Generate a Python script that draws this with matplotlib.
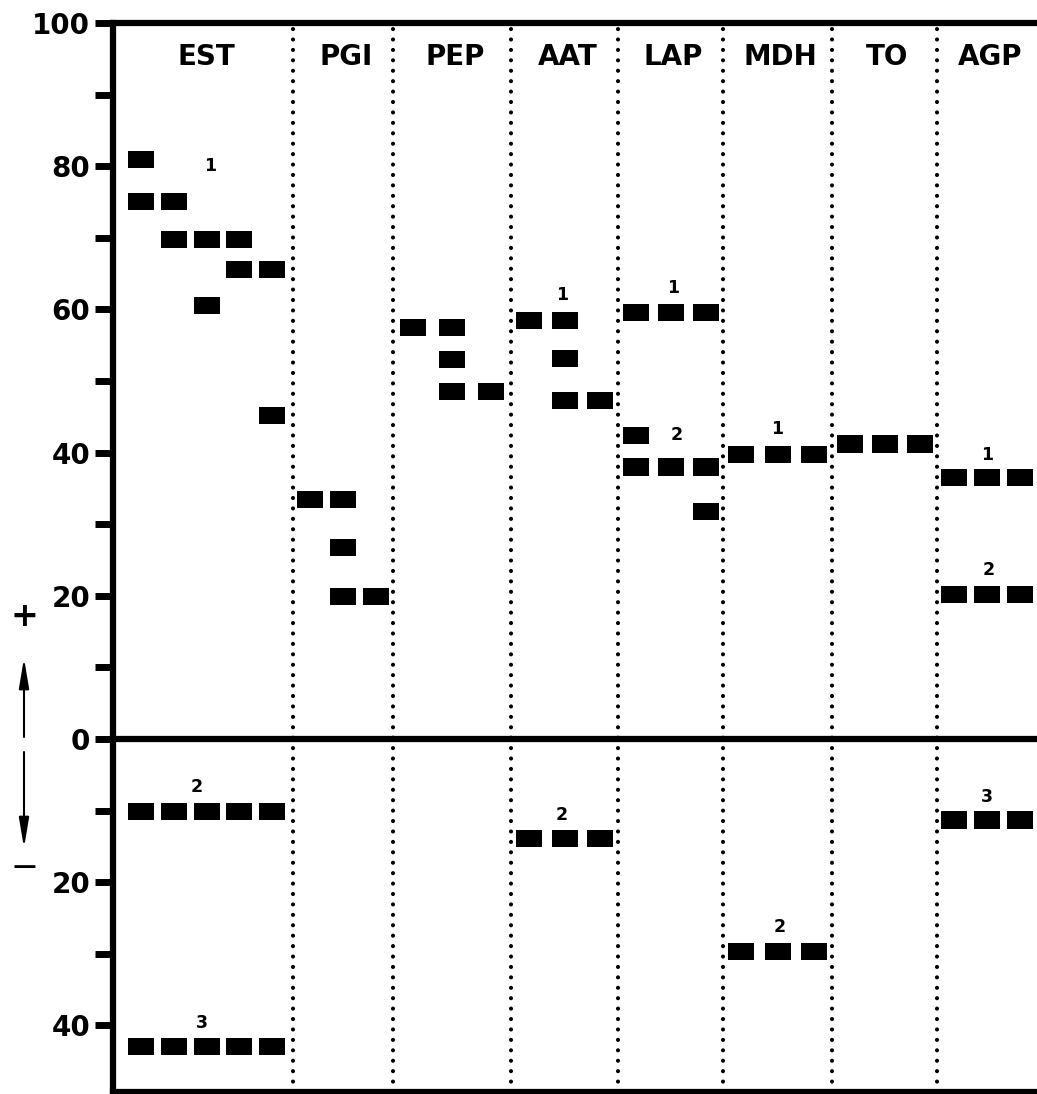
import matplotlib
matplotlib.use("Agg")
import matplotlib.pyplot as plt

# ---------------- data ----------------
enzymes = ["EST", "PGI", "PEP", "AAT", "LAP", "MDH", "TO", "AGP"]
lane_counts = [5, 3, 3, 3, 3, 3, 3, 3]

# bands: (lane index, relative mobility); negative = cathodal side
est_bands = [(0, 80.9), (0, 75.1), (1, 75.1), (1, 69.8), (2, 69.8), (3, 69.8),
             (3, 65.6), (4, 65.6), (2, 60.6), (4, 45.2),
             (0, -10.1), (1, -10.1), (2, -10.1), (3, -10.1), (4, -10.1),
             (0, -42.9), (1, -42.9), (2, -42.9), (3, -42.9), (4, -42.9)]
pgi_bands = [(0, 33.4), (1, 33.4), (1, 26.8), (1, 19.9), (2, 19.9)]
pep_bands = [(0, 57.5), (1, 57.5), (1, 53.0), (1, 48.5), (2, 48.5)]
aat_bands = [(0, 58.4), (1, 58.4), (1, 53.1), (1, 47.3), (2, 47.3),
             (0, -13.9), (1, -13.9), (2, -13.9)]
lap_bands = [(0, 59.6), (1, 59.6), (2, 59.6), (0, 42.4),
             (0, 38.0), (1, 38.0), (2, 38.0), (2, 31.8)]
mdh_bands = [(0, 39.7), (1, 39.7), (2, 39.7), (0, -29.7), (1, -29.7), (2, -29.7)]
to_bands = [(0, 41.2), (1, 41.2), (2, 41.2)]
agp_bands = [(0, 36.5), (1, 36.5), (2, 36.5), (0, 20.2), (1, 20.2), (2, 20.2),
             (0, -11.3), (1, -11.3), (2, -11.3)]
bands = [est_bands, pgi_bands, pep_bands, aat_bands, lap_bands, mdh_bands,
         to_bands, agp_bands]

# locus labels: (enzyme index, text, lane position, mobility of baseline)
locus_labels = [(0, "1", 2.1, 79.3), (0, "2", 1.7, -7.4), (0, "3", 1.85, -40.4),
                (3, "1", 0.93, 61.3), (3, "2", 0.93, -11.3),
                (4, "1", 1.07, 62.3), (4, "2", 1.19, 41.8),
                (5, "1", 1.0, 42.6), (5, "2", 1.07, -26.9),
                (7, "1", 1.0, 38.9), (7, "2", 1.06, 22.9), (7, "3", 1.0, -8.8)]

ytick_values = list(range(-40, 101, 10))
ytick_labels = [str(abs(v)) if v % 20 == 0 else "" for v in ytick_values]

# ---------------- layout ----------------
col_edges = [0, 180, 280, 398, 505, 610, 719, 824, 924]
lane_lo = [12, 0, 0, 0, 0, 0, 0, 0]
lane_hi_trim = [5, 0, 0, 0, 0, 0, 0, 0]
bar_w = 26
bar_h = 2.4

fig = plt.figure(figsize=(10.37, 10.94), dpi=100)
ax = fig.add_axes([113 / 1037, 2 / 1094, 924 / 1037, (1092 - 23) / 1094])
ax.set_xlim(0, 924)
ax.set_ylim(-49.3, 100)

lw_frame = 4.5
for s in ["left", "top", "bottom"]:
    ax.spines[s].set_linewidth(lw_frame)
ax.spines["right"].set_visible(False)
ax.axhline(0, color="black", lw=lw_frame, zorder=3)

# dotted separators
for e in col_edges[1:-1]:
    ax.axvline(e, color="black", lw=3, linestyle=(0, (0.001, 2.5)),
               dash_capstyle="round", zorder=2)

def lane_centers(ci):
    lo = col_edges[ci] + lane_lo[ci]
    hi = col_edges[ci + 1] - lane_hi_trim[ci]
    n = lane_counts[ci]
    step = (hi - lo) / n
    return [lo + (i + 0.5) * step for i in range(n)], lo, step

for ci, name in enumerate(enzymes):
    centers, lo, step = lane_centers(ci)
    xc = (col_edges[ci] + col_edges[ci + 1]) / 2 + 3
    ax.text(xc, 94.1, name, ha="center", va="baseline", fontsize=20,
            fontweight="bold")
    xs = [centers[l] for l, m in bands[ci]]
    ys = [m - bar_h / 2 for l, m in bands[ci]]
    ax.bar(xs, bar_h, width=bar_w, bottom=ys, color="black", zorder=4)

for ci, txt, lp, yb in locus_labels:
    centers, lo, step = lane_centers(ci)
    ax.text(lo + (lp + 0.5) * step, yb, txt, ha="center", va="baseline",
            fontsize=12.5, fontweight="bold")

ax.set_xticks([])
ax.set_yticks(ytick_values)
ax.set_yticklabels(ytick_labels, fontsize=20, fontweight="bold")
ax.tick_params(axis="y", length=13, width=5, pad=3.5, direction="out")

# polarity indicator
fig.text(24 / 1037, 1 - 617 / 1094, "+", ha="center", va="center",
         fontsize=24, fontweight="bold")
fig.text(24 / 1037, 1 - 868 / 1094, "\u2212", ha="center", va="center",
         fontsize=24)
ap = dict(arrowstyle="-|>,head_length=1.8,head_width=0.3", lw=1.5,
          color="black", shrinkA=0, shrinkB=0, mutation_scale=10)
ax.annotate("", xy=(24, 1094 - 658), xytext=(24, 1094 - 737),
            xycoords="figure pixels", textcoords="figure pixels",
            arrowprops=ap, annotation_clip=False)
ax.annotate("", xy=(24, 1094 - 848), xytext=(24, 1094 - 752),
            xycoords="figure pixels", textcoords="figure pixels",
            arrowprops=ap, annotation_clip=False)

fig.savefig("out.png", dpi=100)
